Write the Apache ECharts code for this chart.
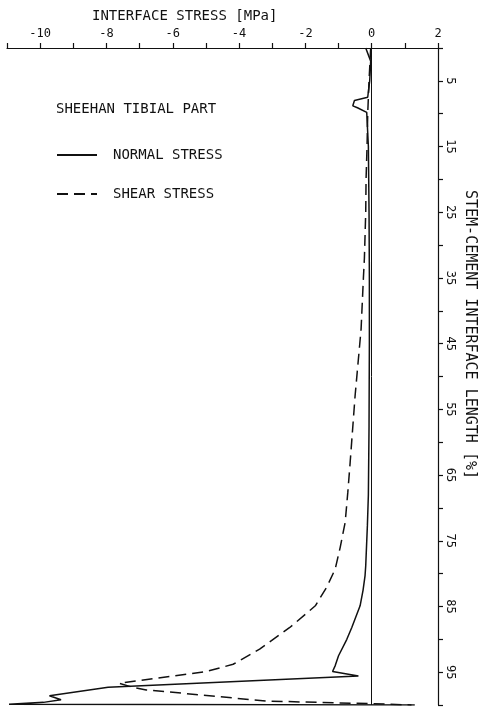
<!DOCTYPE html>
<html>
<head>
<meta charset="UTF-8">
<title>Sheehan tibial part</title>
<script src="https://cdn.jsdelivr.net/npm/echarts@6/dist/echarts.min.js"></script>
<style>
  html, body { margin: 0; padding: 0; background: #fff; }
  #main { width: 479px; height: 708px; }
</style>
</head>
<body>
<div id="main"></div>
<script type="text/javascript">
// interface length [%] along the stem, stress [MPa]
var normalLength = [0, 2, 5, 7.5, 8, 8.8, 9.1, 9.8, 15, 25, 35, 45, 57.5, 68, 72.7, 78.8, 80.3, 82.5, 84.9, 88.2, 90, 92.5, 94, 94.9, 95.6, 97.3, 98.6, 99.2, 99.6, 99.9, 100];
var normalStress = [-0.18, -0.03, -0.06, -0.12, -0.52, -0.57, -0.43, -0.15, -0.1, -0.08, -0.07, -0.07, -0.08, -0.1, -0.13, -0.18, -0.2, -0.26, -0.35, -0.6, -0.75, -1.0, -1.1, -1.18, -0.4, -7.95, -9.72, -9.37, -9.9, -10.94, 1.3];

var shearLength = [0, 2, 5, 10, 15, 20, 25, 32, 35, 42.8, 52.9, 63.1, 67.6, 72.2, 76, 79.3, 82, 84.9, 88.2, 91.5, 93.8, 94.9, 96.7, 97.3, 97.7, 99.4, 99.8, 100];
var shearStress = [-0.03, -0.05, -0.08, -0.12, -0.14, -0.17, -0.18, -0.22, -0.25, -0.32, -0.5, -0.65, -0.72, -0.8, -0.95, -1.1, -1.35, -1.7, -2.47, -3.38, -4.18, -4.99, -7.61, -7.21, -6.8, -3.17, 0.0, 1.2];

var stressLabels = [-10, -8, -6, -4, -2, 0, 2];
var lengthLabels = [5, 15, 25, 35, 45, 55, 65, 75, 85, 95];

function pairs(xs, ys) {
    var out = [];
    for (var i = 0; i < xs.length; i++) out.push([xs[i], ys[i]]);
    return out;
}

var FONT = 'DejaVu Sans Mono';
var INK = '#111';

var myChart = echarts.init(document.getElementById('main'));

var option = {
    animation: false,
    backgroundColor: '#fff',
    title: [
        { text: 'INTERFACE STRESS [MPa]', left: 92, top: 9, padding: 0,
          textStyle: { fontFamily: FONT, fontSize: 14, fontWeight: 'normal', color: INK } },
        { text: 'SHEEHAN TIBIAL PART', left: 56, top: 102, padding: 0,
          textStyle: { fontFamily: FONT, fontSize: 14, fontWeight: 'normal', color: INK } }
    ],
    legend: {
        orient: 'vertical',
        left: 56,
        top: 148,
        itemWidth: 40,
        itemHeight: 14,
        itemGap: 25,
        padding: 0,
        itemStyle: { color: 'transparent', borderColor: 'transparent', borderWidth: 0 },
        textStyle: { fontFamily: FONT, fontSize: 14, color: INK, padding: [0, 0, 0, 11], lineHeight: 14 },
        data: ['NORMAL STRESS', 'SHEAR STRESS']
    },
    grid: { left: 7, right: 41, top: 48, bottom: 3 },
    xAxis: {
        type: 'value',
        position: 'top',
        min: -11,
        max: 2,
        interval: 1,
        axisLine: { onZero: false, lineStyle: { color: INK, width: 1.2 } },
        axisTick: { show: true, inside: false, length: 5, lineStyle: { color: INK, width: 1.2 } },
        axisLabel: {
            margin: 8,
            fontFamily: FONT, fontSize: 12, color: INK,
            formatter: function (v) { return stressLabels.indexOf(v) >= 0 ? String(v) : ''; }
        },
        splitLine: { show: false }
    },
    yAxis: {
        type: 'value',
        position: 'right',
        inverse: true,
        min: 0,
        max: 100,
        interval: 5,
        axisLine: { onZero: false, lineStyle: { color: INK, width: 1.2 } },
        axisTick: { show: true, inside: false, length: 5, lineStyle: { color: INK, width: 1.2 } },
        axisLabel: {
            margin: 6,
            rotate: -90,
            fontFamily: FONT, fontSize: 12, color: INK,
            formatter: function (v) { return lengthLabels.indexOf(v) >= 0 ? String(v) : ''; }
        },
        splitLine: { show: false }
    },
    graphic: [{
        type: 'text',
        x: 470,
        y: 190,
        rotation: -Math.PI / 2,
        style: {
            text: 'STEM-CEMENT INTERFACE LENGTH [%]',
            fontFamily: FONT, fontSize: 15, fill: INK,
            textAlign: 'left', textVerticalAlign: 'middle'
        }
    }],
    series: [
        {
            name: 'NORMAL STRESS',
            type: 'line',
            symbol: 'none',
            data: pairs(normalStress, normalLength),
            lineStyle: { color: INK, width: 1.5, type: 'solid' },
            itemStyle: { color: INK },
            markLine: {
                silent: true,
                symbol: 'none',
                label: { show: false },
                lineStyle: { color: INK, width: 1, type: 'solid' },
                data: [{ xAxis: 0 }]
            }
        },
        {
            name: 'SHEAR STRESS',
            type: 'line',
            symbol: 'none',
            data: pairs(shearStress, shearLength),
            lineStyle: { color: INK, width: 1.5, type: [11, 6] },
            itemStyle: { color: INK }
        }
    ]
};

myChart.setOption(option);
</script>
</body>
</html>
